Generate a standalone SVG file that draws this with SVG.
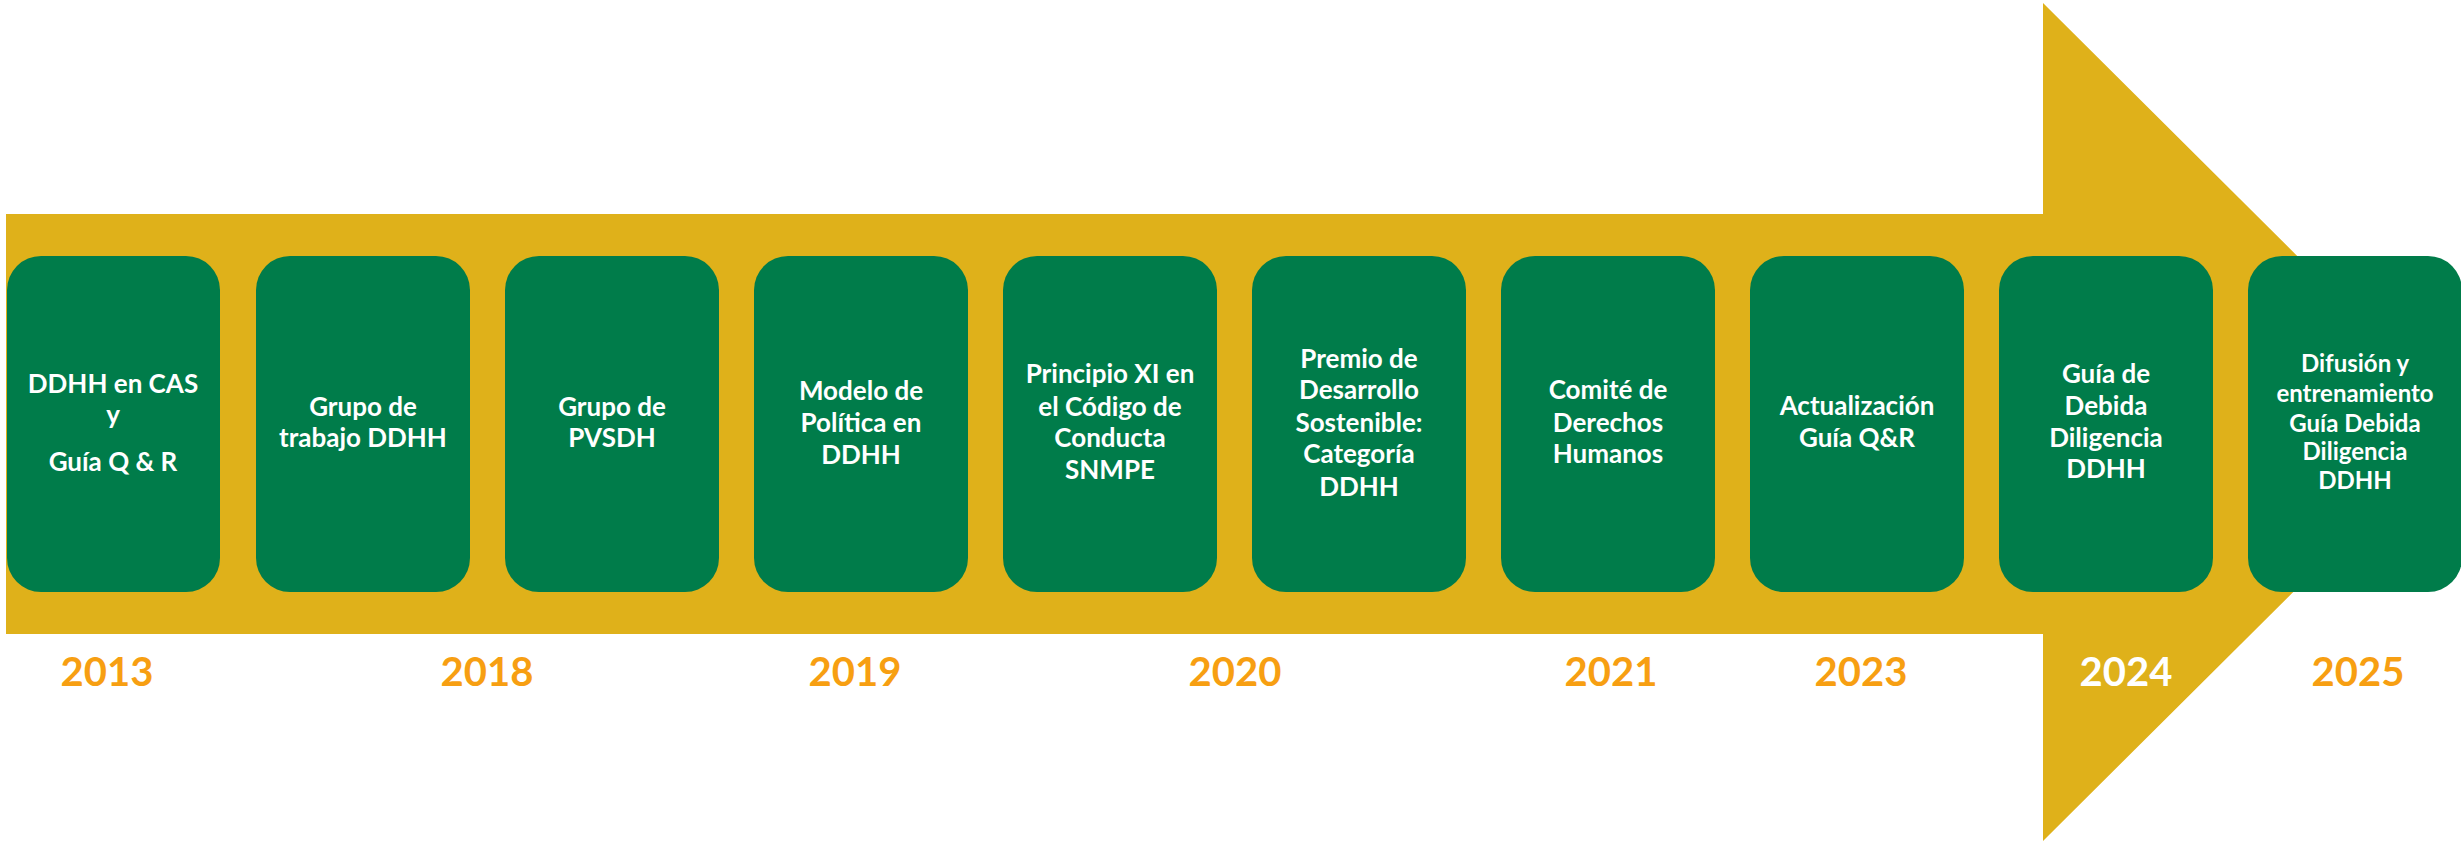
<svg xmlns="http://www.w3.org/2000/svg" width="2461" height="842" viewBox="0 0 2461 842">
<style>
.box{fill:#007C4A}
.t{font-family:Lato,"Liberation Sans",sans-serif;font-weight:700;font-size:26px;fill:#FFFFFF;text-anchor:middle}
.s{font-size:24px}
.yr{font-family:Lato,"Liberation Sans",sans-serif;font-weight:700;font-size:40px;fill:#F79F12;text-anchor:middle}
</style>
<rect width="2461" height="842" fill="#FFFFFF"/>
<g id="arrow">
<polygon points="6,214 2043,214 2043,3 2464,422 2043,841 2043,634 6,634" fill="#DFB11A"/>
</g>
<g id="connectors"></g>
<g id="n1"><rect class="box" x="7" y="256" width="213" height="336" rx="34"/>
<text class="t"><tspan x="113" y="393">DDHH en CAS</tspan><tspan x="113" y="424">y</tspan><tspan x="113" y="471">Guía Q &amp; R</tspan></text></g>
<g id="n2"><rect class="box" x="256" y="256" width="214" height="336" rx="34"/>
<text class="t"><tspan x="363" y="416">Grupo de</tspan><tspan x="363" y="447">trabajo DDHH</tspan></text></g>
<g id="n3"><rect class="box" x="505" y="256" width="214" height="336" rx="34"/>
<text class="t"><tspan x="612" y="416">Grupo de</tspan><tspan x="612" y="447">PVSDH</tspan></text></g>
<g id="n4"><rect class="box" x="754" y="256" width="214" height="336" rx="34"/>
<text class="t"><tspan x="861" y="400">Modelo de</tspan><tspan x="861" y="432">Política en</tspan><tspan x="861" y="464">DDHH</tspan></text></g>
<g id="n5"><rect class="box" x="1003" y="256" width="214" height="336" rx="34"/>
<text class="t"><tspan x="1110" y="383">Principio XI en</tspan><tspan x="1110" y="416">el Código de</tspan><tspan x="1110" y="447">Conducta</tspan><tspan x="1110" y="479">SNMPE</tspan></text></g>
<g id="n6"><rect class="box" x="1252" y="256" width="214" height="336" rx="34"/>
<text class="t"><tspan x="1359" y="368">Premio de</tspan><tspan x="1359" y="399">Desarrollo</tspan><tspan x="1359" y="432">Sostenible:</tspan><tspan x="1359" y="463">Categoría</tspan><tspan x="1359" y="496">DDHH</tspan></text></g>
<g id="n7"><rect class="box" x="1501" y="256" width="214" height="336" rx="34"/>
<text class="t"><tspan x="1608" y="399">Comité de</tspan><tspan x="1608" y="432">Derechos</tspan><tspan x="1608" y="463">Humanos</tspan></text></g>
<g id="n8"><rect class="box" x="1750" y="256" width="214" height="336" rx="34"/>
<text class="t"><tspan x="1857" y="415">Actualización</tspan><tspan x="1857" y="447">Guía Q&amp;R</tspan></text></g>
<g id="n9"><rect class="box" x="1999" y="256" width="214" height="336" rx="34"/>
<text class="t"><tspan x="2106" y="383">Guía de</tspan><tspan x="2106" y="415">Debida</tspan><tspan x="2106" y="447">Diligencia</tspan><tspan x="2106" y="478">DDHH</tspan></text></g>
<g id="n10"><rect class="box" x="2248" y="256" width="214" height="336" rx="34"/>
<text class="t s"><tspan x="2355" y="372">Difusión y</tspan><tspan x="2355" y="402">entrenamiento</tspan><tspan x="2355" y="432">Guía Debida</tspan><tspan x="2355" y="460">Diligencia</tspan><tspan x="2355" y="489">DDHH</tspan></text></g>
<g id="years">
<text class="yr" x="107" y="686">2013</text>
<text class="yr" x="487" y="686">2018</text>
<text class="yr" x="855" y="686">2019</text>
<text class="yr" x="1235" y="686">2020</text>
<text class="yr" x="1611" y="686">2021</text>
<text class="yr" x="1861" y="686">2023</text>
<text class="yr" x="2126" y="686" style="fill:#FFFFFF">2024</text>
<text class="yr" x="2358" y="686">2025</text>
</g>
</svg>
